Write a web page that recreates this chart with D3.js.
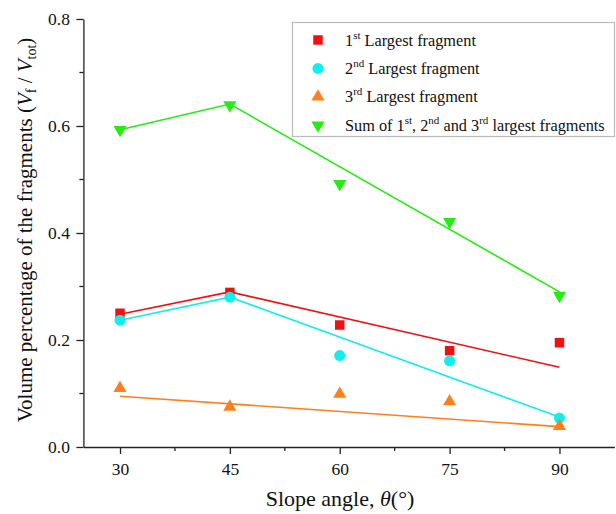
<!DOCTYPE html>
<html>
<head>
<meta charset="utf-8">
<script src="https://cdn.jsdelivr.net/npm/d3@7/dist/d3.min.js"></script>
<style>
  html, body { margin: 0; padding: 0; background: #fff; }
  svg { display: block; font-family: "Liberation Serif", "Times New Roman", serif; }
  svg text { font-family: "Liberation Serif", "Times New Roman", serif; }
</style>
</head>
<body>
<svg id="chart" width="616" height="514"></svg>
<script>
// Slope angle categories (degrees)
const angles = [30, 45, 60, 75, 90];

// Volume fraction of fragments, Vf / Vtot
const first  = [0.250, 0.289, 0.228, 0.180, 0.195];
const second = [0.237, 0.280, 0.171, 0.161, 0.054];
const third  = [0.110, 0.075, 0.099, 0.085, 0.039];
const sumTop = [0.593, 0.639, 0.492, 0.421, 0.283];

// Trend lines (angle, value)
const firstFit  = [[30, 0.248], [45, 0.290], [90, 0.149]];
const secondFit = [[30, 0.237], [45, 0.280], [90, 0.056]];
const thirdFit  = [[30, 0.095], [90, 0.038]];
const sumFit    = [[30, 0.593], [45, 0.641], [90, 0.290]];

const xTicks = [30, 45, 60, 75, 90];
const xMinor = [37.5, 52.5, 67.5, 82.5];
const yTicks = [0.0, 0.2, 0.4, 0.6, 0.8];
const yMinor = [0.1, 0.3, 0.5, 0.7];

const colors = { first: "#ee1111", second: "#11eeee", third: "#ff7f1e", sum: "#22ee11" };
const serif = "Liberation Serif";

const svg = d3.select("#chart");

const x = d3.scaleLinear().domain([25, 97.5]).range([83.4, 614.4]);
const y = d3.scaleLinear().domain([0, 0.8]).range([447, 19]);

// Axes
const xAxis = d3.axisBottom(x).tickValues(xTicks).tickFormat(d3.format("d")).tickSize(7).tickSizeOuter(0);
const gx = svg.append("g").attr("transform", `translate(0,${y(0)})`).call(xAxis);
gx.attr("font-family", serif);
gx.selectAll(".domain").attr("stroke", "#222").attr("stroke-width", 1.3);
gx.selectAll(".tick line").attr("stroke", "#222").attr("stroke-width", 1.3);
gx.selectAll(".tick text").attr("font-family", serif).attr("font-size", 17.5).attr("fill", "#111").attr("dy", "1.03em");
svg.append("g").selectAll("line").data(xMinor).join("line")
  .attr("x1", d => x(d)).attr("x2", d => x(d))
  .attr("y1", y(0)).attr("y2", y(0) + 4)
  .attr("stroke", "#222").attr("stroke-width", 1.3);

const yAxis = d3.axisLeft(y).tickValues(yTicks).tickFormat(d3.format(".1f")).tickSize(7).tickSizeOuter(0);
const gy = svg.append("g").attr("transform", `translate(${x(25)},0)`).call(yAxis);
gy.attr("font-family", serif);
gy.selectAll(".domain").attr("stroke", "#222").attr("stroke-width", 1.3);
gy.selectAll(".tick line").attr("stroke", "#222").attr("stroke-width", 1.3);
gy.selectAll(".tick text").attr("font-family", serif).attr("font-size", 17.5).attr("fill", "#111").attr("x", -13.5);
svg.append("g").selectAll("line").data(yMinor).join("line")
  .attr("x1", x(25)).attr("x2", x(25) - 4)
  .attr("y1", d => y(d)).attr("y2", d => y(d))
  .attr("stroke", "#222").attr("stroke-width", 1.3);

// Axis titles
const xt = svg.append("text").attr("x", 340).attr("y", 506).attr("text-anchor", "middle")
  .attr("font-size", 22).attr("fill", "#111");
xt.append("tspan").text("Slope angle, ");
xt.append("tspan").attr("font-style", "italic").text("θ");
xt.append("tspan").text("(°)");

const yt = svg.append("text").attr("transform", `translate(32,230) rotate(-90)`)
  .attr("text-anchor", "middle").attr("font-size", 21).attr("fill", "#111");
yt.append("tspan").text("Volume percentage of the fragments (");
yt.append("tspan").attr("font-style", "italic").text("V");
yt.append("tspan").attr("font-size", 14).attr("dy", 4).text("f");
yt.append("tspan").attr("dy", -4).text(" / ");
yt.append("tspan").attr("font-style", "italic").text("V");
yt.append("tspan").attr("font-size", 14).attr("dy", 4).text("tot");
yt.append("tspan").attr("dy", -4).text(")");

// Trend lines
const line = d3.line().x(d => x(d[0])).y(d => y(d[1]));
const fits = [[firstFit, colors.first], [secondFit, colors.second], [thirdFit, colors.third], [sumFit, colors.sum]];
svg.append("g").selectAll("path").data(fits).join("path")
  .attr("d", d => line(d[0])).attr("fill", "none")
  .attr("stroke", d => d[1]).attr("stroke-width", 1.6);

// Marker shapes
const sym = {
  square: d3.symbol().type(d3.symbolSquare).size(90),
  circle: d3.symbol().type(d3.symbolCircle).size(95),
  triUp: d3.symbol().type(d3.symbolTriangle).size(75),
  triDown: d3.symbol().type(d3.symbolTriangle).size(75)
};

function drawPoints(values, shape, color, rotate) {
  svg.append("g").selectAll("path").data(values).join("path")
    .attr("d", sym[shape]())
    .attr("transform", (d, i) => `translate(${x(angles[i])},${y(d)})${rotate ? " rotate(180)" : ""}`)
    .attr("fill", color);
}
drawPoints(first, "square", colors.first, false);
drawPoints(second, "circle", colors.second, false);
drawPoints(third, "triUp", colors.third, false);
drawPoints(sumTop, "triDown", colors.sum, true);

// Legend
const legend = svg.append("g");
legend.append("rect").attr("x", 292.5).attr("y", 22.5).attr("width", 322).attr("height", 114)
  .attr("fill", "#fff").attr("stroke", "#bbb").attr("stroke-width", 1.2);

const legendItems = [
  { shape: "square", color: colors.first, rot: false, parts: [["1", 0], ["st", 1], [" Largest fragment", 0]] },
  { shape: "circle", color: colors.second, rot: false, parts: [["2", 0], ["nd", 1], [" Largest fragment", 0]] },
  { shape: "triUp", color: colors.third, rot: false, parts: [["3", 0], ["rd", 1], [" Largest fragment", 0]] },
  { shape: "triDown", color: colors.sum, rot: true, parts: [["Sum of 1", 0], ["st", 1], [", 2", 0], ["nd", 1], [" and 3", 0], ["rd", 1], [" largest fragments", 0]] }
];
legendItems.forEach((it, i) => {
  const cy = 40 + i * 28.4;
  legend.append("path").attr("d", sym[it.shape]())
    .attr("transform", `translate(318,${cy})${it.rot ? " rotate(180)" : ""}`)
    .attr("fill", it.color);
  const t = legend.append("text").attr("x", 345).attr("y", cy + 5.5)
    .attr("font-size", 16.3).attr("fill", "#111");
  let raised = false;
  it.parts.forEach(([s, sup]) => {
    const ts = t.append("tspan").text(s);
    if (sup && !raised) { ts.attr("font-size", 11).attr("dy", -7); raised = true; }
    else if (!sup && raised) { ts.attr("dy", 7); raised = false; }
  });
});
</script>
</body>
</html>
